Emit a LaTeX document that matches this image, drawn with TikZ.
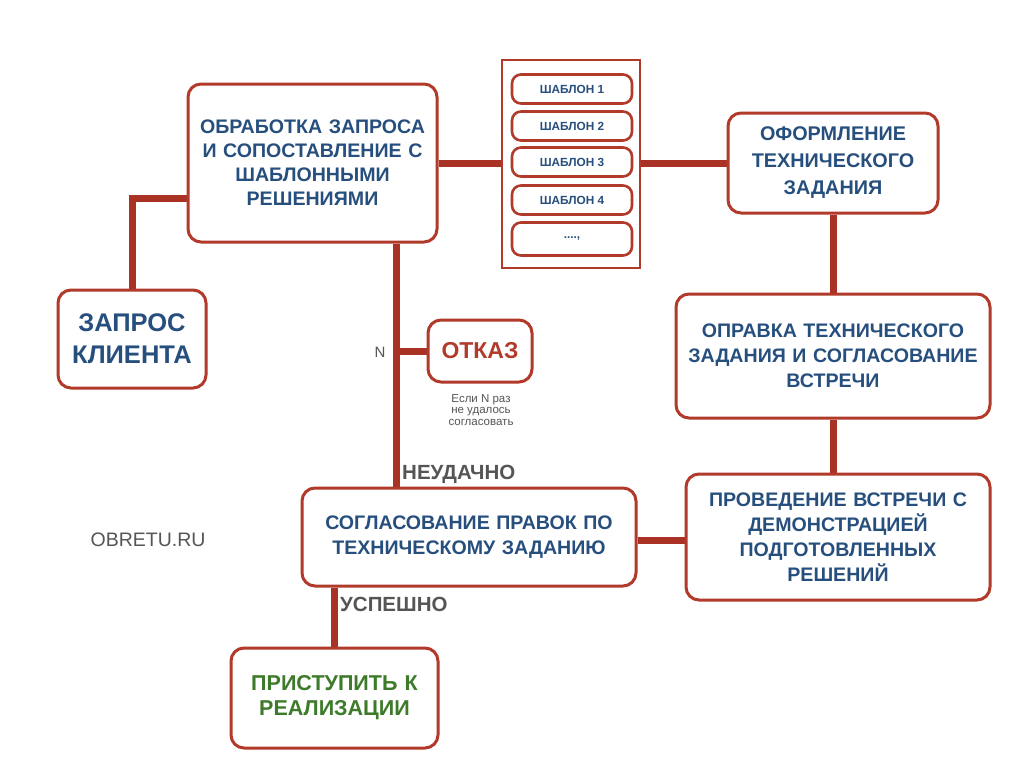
\documentclass[tikz,border=0pt]{standalone}
\usepackage{fontspec}
\setmainfont{Liberation Sans}
\usetikzlibrary{backgrounds}
\definecolor{boxred}{HTML}{B23A2A}
\definecolor{linered}{HTML}{A93224}
\definecolor{txtblue}{HTML}{274F7E}
\definecolor{txtgreen}{HTML}{3D7A2A}
\definecolor{txtgray}{HTML}{555555}
\tikzset{
  box/.style={draw=boxred, line width=3pt, rounded corners=13pt, fill=white,
    align=center, inner sep=0pt, text=txtblue},
  tbox/.style={box, line width=2.6pt, rounded corners=9pt, minimum width=120pt, minimum height=29pt,
    font=\bfseries\fontsize{11.8}{13}\selectfont},
  maintext/.style={font=\bfseries\fontsize{19.6}{25}\selectfont},
  conn/.style={draw=linered, line width=7pt},
  lbl/.style={text=txtgray, font=\bfseries\fontsize{20.5}{22}\selectfont, inner sep=0pt}
}
\begin{document}
\begin{tikzpicture}[x=1pt,y=-1pt]
\useasboundingbox (0,0) rectangle (1024,768);

\node[box, font=\bfseries\fontsize{19.6}{24}\selectfont, minimum width=249pt, minimum height=158pt, text width=245pt] (obr) at (312.5,163)
  {ОБРАБОТКА ЗАПРОСА\\И СОПОСТАВЛЕНИЕ С\\ШАБЛОННЫМИ\\РЕШЕНИЯМИ};
\node[draw=boxred, line width=2pt, fill=white, minimum width=138pt, minimum height=208pt, inner sep=0pt] (cont) at (571,164) {};
\node[tbox] (t1) at (572,89) {ШАБЛОН 1};
\node[tbox] (t2) at (572,126) {ШАБЛОН 2};
\node[tbox] (t3) at (572,162) {ШАБЛОН 3};
\node[tbox] (t4) at (572,200) {ШАБЛОН 4};
\node[tbox, minimum height=33pt] (t5) at (572,239) {....,};

\node[box, font=\bfseries\fontsize{19.8}{27}\selectfont, minimum width=210pt, minimum height=100pt, text width=205pt] (ofo) at (833,163)
  {ОФОРМЛЕНИЕ\\ТЕХНИЧЕСКОГО\\ЗАДАНИЯ};
\node[box, font=\bfseries\fontsize{25.5}{32}\selectfont, minimum width=148pt, minimum height=98pt, text width=144pt] (zap) at (132,339)
  {ЗАПРОС\\КЛИЕНТА};
\node[box, text=boxred, font=\bfseries\fontsize{23}{26}\selectfont, minimum width=104pt, minimum height=62pt] (otk) at (480,351)
  {ОТКАЗ};
\node[text=txtgray, align=center, inner sep=0pt, font=\fontsize{11.5}{11.8}\selectfont] (note) at (481,410)
  {Если N раз\\не удалось\\согласовать};
\node[box, maintext, minimum width=314pt, minimum height=124pt, text width=310pt] (opr) at (833,356)
  {ОПРАВКА ТЕХНИЧЕСКОГО\\ЗАДАНИЯ И СОГЛАСОВАНИЕ\\ВСТРЕЧИ};
\node[box, maintext, minimum width=304pt, minimum height=126pt, text width=300pt] (pro) at (838,537)
  {ПРОВЕДЕНИЕ ВСТРЕЧИ С\\ДЕМОНСТРАЦИЕЙ\\ПОДГОТОВЛЕННЫХ\\РЕШЕНИЙ};
\node[box, maintext, minimum width=334pt, minimum height=98pt, text width=330pt] (sog) at (469,537)
  {СОГЛАСОВАНИЕ ПРАВОК ПО\\ТЕХНИЧЕСКОМУ ЗАДАНИЮ};
\node[box, text=txtgreen, font=\bfseries\fontsize{21.5}{25}\selectfont, minimum width=207pt, minimum height=100pt, text width=205pt] (pri) at (334.5,698)
  {ПРИСТУПИТЬ К\\РЕАЛИЗАЦИИ};

\node[text=txtgray, inner sep=0pt, font=\fontsize{15}{17}\selectfont] (nl) at (380,352) {N};
\node[lbl, anchor=west] (neu) at (402,474) {НЕУДАЧНО};
\node[lbl, anchor=west] (usp) at (340,604) {УСПЕШНО};
\node[text=txtgray, inner sep=0pt, font=\fontsize{19.5}{22}\selectfont] (obretu) at (148,540) {OBRETU.RU};

\coordinate (vx) at (396,0);
\begin{pgfonlayer}{background}
\fill[white] (0,0) rectangle (1024,768);
\draw[conn] (zap.north) |- ([yshift=-35pt]obr.west);
\draw[conn] (obr.east) -- (cont.west |- obr.east);
\draw[conn] (cont.east |- ofo.west) -- (ofo.west);
\draw[conn] (ofo.south) -- (opr.north);
\draw[conn] (opr.south) -- (opr.south |- pro.north);
\draw[conn] ([yshift=-3pt]pro.west) -- ([yshift=-3pt]pro.west -| sog.east);
\draw[conn] (obr.south -| vx) -- (sog.north -| vx);
\draw[conn] (otk.west) -- (otk.west -| vx);
\draw[conn] (pri.north) -- (pri.north |- sog.south);
\end{pgfonlayer}
\end{tikzpicture}
\end{document}
